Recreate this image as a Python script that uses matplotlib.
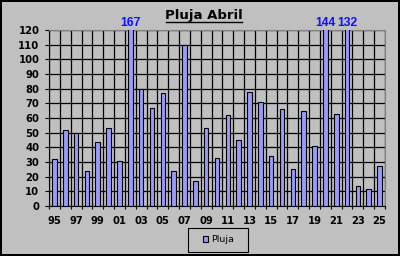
import matplotlib
matplotlib.use("Agg")
import matplotlib.pyplot as plt
from matplotlib.lines import Line2D
from matplotlib.patches import Rectangle
import numpy as np

plt.rcParams["font.family"] = ["DejaVu Sans"]

years = ["95", "96", "97", "98", "99", "00", "01", "02", "03", "04",
         "05", "06", "07", "08", "09", "10", "11", "12", "13", "14",
         "15", "16", "17", "18", "19", "20", "21", "22", "23", "24", "25"]
pluja = [32, 51.5, 50, 24, 43.5, 53, 30.5, 167, 80, 67,
         77, 24, 110, 17, 53, 32.5, 62, 45, 77.5, 71,
         34, 66, 25, 64.6, 40.7, 144, 63, 132, 13.4, 11.4, 27]
ymax = 120

fig = plt.figure(figsize=(4, 2.56), dpi=100)
fig.patch.set_facecolor("#C0C0C0")
fig.patch.set_edgecolor("black")
fig.patch.set_linewidth(1.5)

ax = fig.add_axes([49/400, 50/256, 336/400, 176/256])
ax.set_facecolor("#C0C0C0")
x = np.arange(len(years))
ax.bar(x, pluja, width=0.42, color="#9999FF", edgecolor="black", linewidth=0.8,
       label="Pluja", zorder=3)

ax.set_xlim(-0.5, len(years) - 0.5)
ax.set_ylim(0, ymax)
ax.set_yticks(range(0, ymax + 1, 10))
ax.set_xticks(x[::2])
ax.set_xticklabels(years[::2])
ax.set_xticks(np.arange(-0.5, len(years), 1), minor=True)
ax.tick_params(axis="x", which="major", length=0, pad=7)
ax.tick_params(axis="x", which="minor", length=2.5, width=0.8, color="black")
ax.tick_params(axis="y", length=3, width=0.8, pad=4)
for lab in ax.get_xticklabels() + ax.get_yticklabels():
    lab.set_fontsize(7.2)
    lab.set_fontweight("bold")

ax.grid(True, which="minor", axis="x", color="black", linewidth=0.9, zorder=1)
ax.grid(True, which="major", axis="y", color="black", linewidth=0.9, zorder=1)
ax.spines["left"].set_color("black")
ax.spines["bottom"].set_color("black")
ax.spines["top"].set_color("#808080")
ax.spines["right"].set_color("#808080")

# values of the bars cut at the top
for xi, v in zip(x, pluja):
    if v > ymax:
        ax.text(xi, ymax + 0.5, str(v), ha="center", va="bottom", color="#1010FF",
                fontsize=8.7, fontweight="bold", family="Liberation Sans",
                clip_on=False)

fig.text(0.51, 1 - 16/256, "Pluja Abril", ha="center", va="center", fontsize=9.5,
         fontweight="bold")
fig.add_artist(Line2D([166/400, 242/400], [1 - 21.5/256, 1 - 21.5/256],
                      color="black", linewidth=1, transform=fig.transFigure))

# legend box
fig.add_artist(Rectangle((188/400, 1 - 252/256), 60/400, 24/256, facecolor="none",
                         edgecolor="black", linewidth=0.8, transform=fig.transFigure))
leg = fig.legend(loc="center", bbox_to_anchor=(218.5/400, 1 - 240/256), fontsize=6.8,
                 frameon=False, handlelength=0.5, handleheight=0.5,
                 borderpad=0, handletextpad=0.3, borderaxespad=0)

fig.savefig("out.png", dpi=100, facecolor=fig.get_facecolor(), edgecolor="black")
